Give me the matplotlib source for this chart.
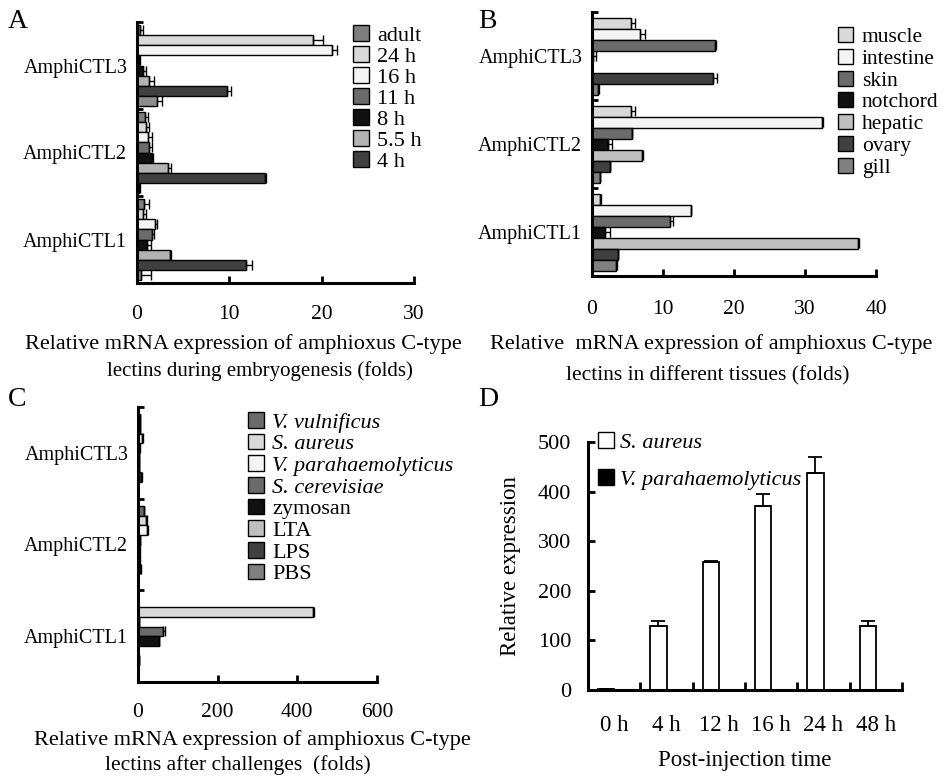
import numpy as np
import matplotlib
matplotlib.use("Agg")
from matplotlib import pyplot as plt
from matplotlib.patches import Patch

plt.rcParams['font.family'] = ['Liberation Serif', 'DejaVu Serif']

genes = ["AmphiCTL1", "AmphiCTL2", "AmphiCTL3"]

# panel A: embryogenesis (values per gene CTL1, CTL2, CTL3)
stage_labels = ["adult", "24 h", "16 h", "11 h", "8 h", "5.5 h", "4 h", ""]
stage_vals = [
    [0.8, 0.9, 0.3],
    [0.7, 1.0, 19.1],
    [1.9, 1.2, 21.1],
    [1.6, 1.3, 0.2],
    [1.1, 1.6, 0.7],
    [3.6, 3.4, 1.3],
    [11.8, 13.9, 9.8],
    [0.4, 0.2, 2.2],
]
stage_err = [
    [0.5, 0.3, 0.3],
    [0.3, 0.3, 1.0],
    [0.3, 0.4, 0.6],
    [0.2, 0.3, 0.1],
    [0.4, 0.1, 0.3],
    [0.1, 0.3, 0.5],
    [0.7, 0.1, 0.4],
    [1.1, 0.1, 0.5],
]
stage_colors = ["#7f7f7f", "#d9d9d9", "#f4f4f4", "#6b6b6b", "#111111",
                "#b3b3b3", "#404040", "#8c8c8c"]

# panel B: tissues
tissue_labels = ["muscle", "intestine", "skin", "notchord", "hepatic", "ovary", "gill"]
tissue_vals = [
    [1.1, 5.5, 5.5],
    [13.9, 32.4, 6.7],
    [11.0, 5.6, 17.3],
    [1.8, 2.2, 0.1],
    [37.5, 7.1, 0.05],
    [3.6, 2.5, 17.0],
    [3.4, 1.1, 0.85],
]
tissue_err = [
    [0.1, 0.5, 0.5],
    [0.1, 0.2, 0.7],
    [0.4, 0.1, 0.1],
    [0.8, 0.6, 0.5],
    [0.15, 0.05, 0.0],
    [0.1, 0.1, 0.6],
    [0.1, 0.05, 0.1],
]
tissue_colors = ["#d9d9d9", "#f4f4f4", "#6b6b6b", "#111111", "#bfbfbf", "#404040", "#808080"]

# panel C: challenges
chal_labels = ["V. vulnificus", "S. aureus", "V. parahaemolyticus", "S. cerevisiae",
               "zymosan", "LTA", "LPS", "PBS"]
chal_italic = [True, True, True, True, False, False, False, False]
chal_vals = [
    [1, 14, 4],
    [439, 21, 5],
    [2, 22, 10],
    [63, 5, 3],
    [52, 3, 2],
    [1, 3, 2],
    [2, 6, 8],
    [1, 1, 1],
]
chal_err = [
    [0, 2, 1],
    [3, 2, 1],
    [0, 2, 2],
    [4, 1, 1],
    [0, 1, 0],
    [0, 1, 0],
    [0, 1, 1],
    [0, 0, 0],
]
chal_colors = ["#6b6b6b", "#d9d9d9", "#f4f4f4", "#6b6b6b", "#111111", "#bfbfbf", "#404040", "#808080"]

# panel D: time course
times = ["0 h", "4 h", "12 h", "16 h", "24 h", "48 h"]
sa_vals = [2, 129, 259, 371, 438, 129]
sa_err = [0, 10, 2, 24, 32, 10]
vp_vals = [0.5, 0.5, 0.5, 0.5, 0.5, 0.5]

W, H = 952, 777
fig = plt.figure(figsize=(W / 100, H / 100), dpi=100)


def rect(l, r, t, b):
    return [l / W, 1 - b / H, (r - l) / W, (b - t) / H]


def style_axes(ax):
    for s in ["top", "right"]:
        ax.spines[s].set_visible(False)
    for s in ["left", "bottom"]:
        ax.spines[s].set_linewidth(2.2)


def hbar_panel(ax, vals, errs, colors, bar_h, xmax, step, xpad):
    n = len(vals)
    y = np.arange(3)
    for i in range(n):
        pos = y + ((n - 1) / 2 - i) * bar_h
        v = np.array(vals[i])
        e = np.array(errs[i])
        ax.barh(pos, v, height=bar_h, color=colors[i], edgecolor="black", linewidth=1, zorder=2)
        ax.errorbar(v, pos, xerr=[np.zeros(3), e], fmt="none", ecolor="black",
                    elinewidth=1, capsize=3.5, capthick=1, zorder=3)
    ax.set_xlim(0, xmax)
    ax.set_ylim(-0.5, 2.5)
    ax.set_xticks(np.arange(0, xmax + 1, step))
    ax.set_yticks(y)
    ax.set_yticklabels(genes)
    ax.set_yticks([-0.5, 0.5, 1.5, 2.5], minor=True)
    ax.tick_params(axis="y", which="major", length=0, pad=7, labelsize=14.5)
    ax.tick_params(axis="y", which="minor", direction="in", length=4, width=2)
    ax.tick_params(axis="x", direction="in", length=5, width=2, pad=xpad, labelsize=15.5)
    style_axes(ax)


def add_legend(handles, labels, x, y, spacing, size, italic=None, tpad=0.4):
    leg = fig.legend(handles, labels, loc="upper left", bbox_to_anchor=(x / W, 1 - y / H),
                     bbox_transform=fig.transFigure, frameon=False, handlelength=0.7,
                     handleheight=0.7, handletextpad=tpad, labelspacing=spacing,
                     borderpad=0, borderaxespad=0, fontsize=size)
    if italic:
        for t, it in zip(leg.get_texts(), italic):
            if it:
                t.set_style("italic")
    return leg


# A
axA = fig.add_axes(rect(137, 414, 22, 283))
hbar_panel(axA, stage_vals, stage_err, stage_colors, 0.115, 30, 10, 16)
hA = [Patch(facecolor=c, edgecolor="black", linewidth=1) for c in stage_colors[:7]]
add_legend(hA, stage_labels[:7], 353, 25, 0.02, 16)

# B
axB = fig.add_axes(rect(592, 876, 12, 276))
hbar_panel(axB, tissue_vals, tissue_err, tissue_colors, 0.125, 40, 10, 17)
hB = [Patch(facecolor=c, edgecolor="black", linewidth=1) for c in tissue_colors]
add_legend(hB, tissue_labels, 838, 27, 0.08, 15.5)

# C
axC = fig.add_axes(rect(138, 377, 407, 682))
hbar_panel(axC, chal_vals, chal_err, chal_colors, 0.105, 600, 200, 15)
hC = [Patch(facecolor=c, edgecolor="black", linewidth=1) for c in chal_colors]
add_legend(hC, chal_labels, 248, 412, 0.05, 16, chal_italic)

# D
axD = fig.add_axes(rect(588, 902, 442, 690))
x = np.arange(len(times))
bw = 0.31
axD.bar(x - bw / 2, sa_vals, width=bw, color="white", edgecolor="black", linewidth=1.3, zorder=2)
axD.errorbar(x - bw / 2, sa_vals, yerr=[np.zeros(len(x)), sa_err], fmt="none", ecolor="black",
             elinewidth=1.3, capsize=5, capthick=1.3, zorder=3)
axD.bar(x + bw / 2, vp_vals, width=bw, color="black", edgecolor="black", linewidth=1, zorder=2)
axD.set_xlim(-0.5, len(times) - 0.5)
axD.set_ylim(0, 500)
axD.set_yticks(np.arange(0, 501, 100))
axD.set_xticks(x)
axD.set_xticklabels(times)
axD.set_xticks(np.arange(0.5, len(times), 1), minor=True)
axD.tick_params(axis="x", which="major", length=0, pad=18, labelsize=16.5)
axD.tick_params(axis="x", which="minor", direction="in", length=6, width=2)
axD.tick_params(axis="y", direction="in", length=5, width=2, pad=12, labelsize=16)
axD.set_ylabel("Relative expression", fontsize=16.5, labelpad=12)
axD.set_xlabel("Post-injection time", fontsize=16.5, labelpad=10)
style_axes(axD)
hD = [Patch(facecolor="white", edgecolor="black", linewidth=1),
      Patch(facecolor="black", edgecolor="black", linewidth=1)]
add_legend(hD, ["S. aureus", "V. parahaemolyticus"], 598, 432, 0.75, 16, [True, True], tpad=0.3)

# axis captions
fig.text(243 / W, 1 - 344 / H, "Relative mRNA expression of amphioxus C-type",
         ha="center", va="center", fontsize=16)
fig.text(260 / W, 1 - 371 / H, "lectins during embryogenesis (folds)",
         ha="center", va="center", fontsize=15)
fig.text(711 / W, 1 - 344 / H, "Relative  mRNA expression of amphioxus C-type",
         ha="center", va="center", fontsize=16)
fig.text(708 / W, 1 - 376 / H, "lectins in different tissues (folds)",
         ha="center", va="center", fontsize=15.5)
fig.text(252 / W, 1 - 740 / H, "Relative mRNA expression of amphioxus C-type",
         ha="center", va="center", fontsize=16)
fig.text(238 / W, 1 - 765 / H, "lectins after challenges  (folds)",
         ha="center", va="center", fontsize=15.5)

# panel letters
for lab, px, py in [("A", 8, 22), ("B", 478, 22), ("C", 8, 400), ("D", 478, 400)]:
    fig.text(px / W, 1 - py / H, lab, ha="left", va="center", fontsize=20)

fig.savefig("out.png", dpi=100)
